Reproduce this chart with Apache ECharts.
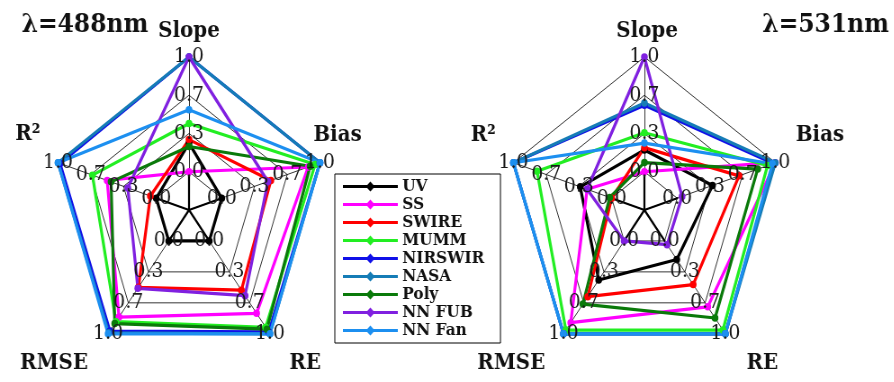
<!DOCTYPE html>
<html>
<head>
<meta charset="utf-8">
<script src="https://cdn.jsdelivr.net/npm/echarts@6/dist/echarts.min.js"></script>
<style>
  html, body { margin: 0; padding: 0; background: #fff; overflow: hidden; }
  #wrap { width: 894px; height: 382px; overflow: hidden; }
  /* the two webs are a little narrower than they are tall */
  #chart { width: 994px; height: 382px; transform: scaleX(0.9); transform-origin: 0 0; }
</style>
</head>
<body>
<div id="wrap"><div id="chart"></div></div>
<script>
// Axes of each web, counter-clockwise from the top
const indicatorNames = ['Slope', 'R\u00b2', 'RMSE', 'RE', 'Bias'];
const seriesNames = ['UV', 'SS', 'SWIRE', 'MUMM', 'NIRSWIR', 'NASA', 'Poly', 'NN FUB', 'NN Fan'];
const seriesColors = ['#000000', '#ff00ff', '#ff0000', '#22ee22', '#1010e8', '#157cb6', '#0a7a0a', '#8020e0', '#1c8ff0'];

// Normalised scores, ordered [Slope, R², RMSE, RE, Bias]
const uv488      = [0.25, 0.00, 0.00, 0.00, 0.00];
const ss488      = [0.00, 0.50, 0.82, 0.78, 0.88];
const swire488   = [0.28, 0.06, 0.50, 0.53, 0.50];
const mumm488    = [0.42, 0.65, 0.87, 0.93, 0.95];
const nirswir488 = [1.00, 0.98, 0.97, 0.98, 1.00];
const nasa488    = [1.00, 1.00, 0.99, 1.00, 1.00];
const poly488    = [0.22, 0.46, 0.89, 0.95, 0.90];
const nnfub488   = [1.00, 0.29, 0.51, 0.59, 0.47];
const nnfan488   = [0.54, 1.00, 1.00, 1.00, 1.00];

const uv531      = [0.19, 0.32, 0.42, 0.20, 0.36];
const ss531      = [0.00, 0.25, 0.88, 0.71, 1.00];
const swire531   = [0.21, 0.00, 0.60, 0.47, 0.63];
const mumm531    = [0.34, 0.76, 0.96, 0.96, 0.92];
const nirswir531 = [0.58, 1.00, 1.00, 1.00, 0.98];
const nasa531    = [0.60, 1.00, 1.00, 1.00, 1.00];
const poly531    = [0.08, 0.02, 0.68, 0.83, 0.82];
const nnfub531   = [1.00, 0.25, 0.00, 0.04, 0.05];
const nnfan531   = [0.25, 1.00, 1.00, 1.00, 0.97];

// Rings of the web and their labels; the centre sits one ring below 0
const ringValues = [0, 1 / 3, 2 / 3, 1];
const ringLabels = ['0.0', '0.3', '0.7', '1.0'];
const axisMin = -1 / 3;
const axisMax = 1;

const panels = [
  { title: '\u03bb=488nm', values: [uv488, ss488, swire488, mumm488, nirswir488, nasa488, poly488, nnfub488, nnfan488] },
  { title: '\u03bb=531nm', values: [uv531, ss531, swire531, mumm531, nirswir531, nasa531, poly531, nnfub531, nnfan531] }
];

const SERIF = '"DejaVu Serif", "Liberation Serif", serif';
const centers = [[210, 210], [716, 210]];
const R = 153;

const indicator = indicatorNames.map(n => ({ name: n, min: axisMin, max: axisMax }));

const radars = [];
centers.forEach(c => {
  radars.push({
    center: c, radius: R, startAngle: 90, shape: 'polygon', splitNumber: 4,
    indicator: indicator,
    axisName: { show: false },
    splitArea: { show: false },
    splitLine: { lineStyle: { color: '#000', width: 0.8 } },
    axisLine: { lineStyle: { color: '#000', width: 0.8 } },
    axisTick: { show: false }, axisLabel: { show: false }
  });
});
// heavier spokes inside the innermost ring
centers.forEach(c => {
  radars.push({
    center: c, radius: R / 4, startAngle: 90, shape: 'polygon', splitNumber: 1,
    indicator: indicator,
    axisName: { show: false },
    splitArea: { show: false },
    splitLine: { show: false },
    axisLine: { lineStyle: { color: '#000', width: 2.2 } },
    axisTick: { show: false }, axisLabel: { show: false }
  });
});

const series = [];
panels.forEach((p, r) => {
  seriesNames.forEach((name, i) => {
    series.push({
      type: 'radar', radarIndex: r, name: name,
      symbol: 'circle', symbolSize: 7.5,
      lineStyle: { width: 3.2, color: seriesColors[i] },
      itemStyle: { color: seriesColors[i] },
      emphasis: { disabled: true },
      z: 2,
      data: [{ name: name, value: p.values[i] }]
    });
  });
  // ring value labels printed on every axis
  ringValues.forEach((v, k) => {
    series.push({
      type: 'radar', radarIndex: r, name: 'ring' + k, silent: true,
      symbol: 'circle', symbolSize: 1,
      lineStyle: { width: 0, opacity: 0 },
      itemStyle: { color: 'rgba(0,0,0,0)' },
      label: {
        show: true, position: 'inside', formatter: () => ringLabels[k],
        color: '#1a1a1a', fontFamily: SERIF, fontSize: 21
      },
      z: 3,
      data: [{ name: 'ring' + k, value: indicatorNames.map(() => v) }]
    });
  });
});

// axis names and panel titles
const nameStyle = { font: 'bold 22px ' + SERIF, fill: '#111', align: 'center', verticalAlign: 'middle' };
const namePos = [
  { Slope: [210, 31], 'R\u00b2': [31, 134], RMSE: [60, 363], RE: [339, 363], Bias: [375, 135] },
  { Slope: [719, 31], 'R\u00b2': [537, 135], RMSE: [568, 363], RE: [847, 363], Bias: [911, 135] }
];
const graphics = [];
namePos.forEach(pos => {
  indicatorNames.forEach(n => {
    graphics.push({ type: 'text', x: pos[n][0], y: pos[n][1], style: Object.assign({ text: n }, nameStyle) });
  });
});
graphics.push({ type: 'text', x: 24, y: 25, style: { text: panels[0].title, font: 'bold 26px ' + SERIF, fill: '#111', align: 'left', verticalAlign: 'middle' } });
graphics.push({ type: 'text', x: 847, y: 25, style: { text: panels[1].title, font: 'bold 26px ' + SERIF, fill: '#111', align: 'left', verticalAlign: 'middle' } });

const chart = echarts.init(document.getElementById('chart'));
chart.setOption({
  animation: false,
  backgroundColor: '#fff',
  radar: radars,
  legend: {
    orient: 'vertical', left: 372, top: 174,
    data: seriesNames,
    itemWidth: 61, itemHeight: 10, itemGap: 1,
    icon: 'path://M0,3.5L61,3.5L61,6.5L0,6.5Z M30.5,0L35.5,5L30.5,10L25.5,5Z',
    textStyle: { fontFamily: SERIF, fontWeight: 'bold', fontSize: 17, color: '#111' },
    borderColor: '#000', borderWidth: 1, padding: [4, 18, 4, 9],
    selectedMode: false
  },
  graphic: graphics,
  series: series
});
</script>
</body>
</html>
